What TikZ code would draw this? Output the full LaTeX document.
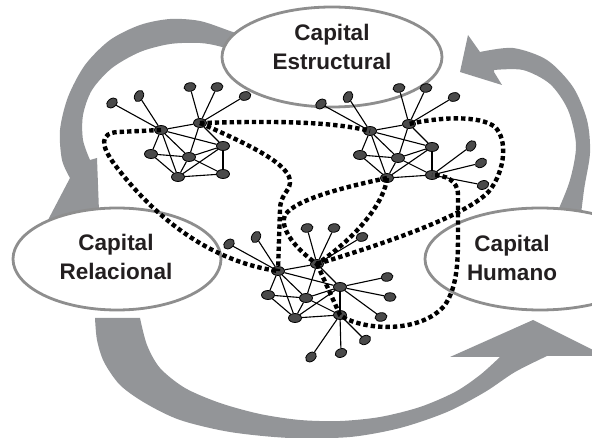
\documentclass[tikz,border=0pt]{standalone}
\usepackage{fontspec}
\setmainfont{Liberation Sans}
\usetikzlibrary{shapes.geometric}

\definecolor{arrowgray}{HTML}{939598}
\definecolor{ringgray}{HTML}{8E8E8E}
\definecolor{nodegray}{HTML}{4A4A4A}
\definecolor{textdark}{HTML}{231F20}

\begin{document}
\begin{tikzpicture}[%
        x = 1pt, y = -1pt,
        capital/.style = {ellipse, draw = ringgray, line width = 2.8pt, fill = white, inner sep = 0pt},
        captext/.style = {align = center, text = textdark, font = \fontsize{22.5}{29}\selectfont\bfseries},
        nd/.style = {ellipse, draw = black, line width = 0.8pt, fill = nodegray, minimum width = 13pt, minimum height = 9pt, inner sep = 0pt},
        leaf/.style = {nd, minimum width = 12pt, minimum height = 8.5pt},
        wire/.style = {line width = 1.1pt},
        dotlink/.style = {line width = 4.4pt, dash pattern = on 4.4pt off 3pt}
    ]

        \clip (0,0) rectangle (592,438);

        % Big grey arrows running round the three capitals.
        \fill[arrowgray] plot[smooth] coordinates {(255,40) (230,31) (200,21) (170,19) (140,25) (110,40) (85,65) (68,97) (60,130) (62,160) (70,178)}
            -- (48,220) -- (100,238) -- (97,158)
            -- plot[smooth] coordinates {(90,160) (83,140) (83,115) (92,90) (112,68) (140,52) (170,44) (200,43) (222,47) (255,58)} -- cycle;
        \fill[arrowgray] (468,35) -- (460,72) -- (502,85) -- (494,72)
            -- plot[smooth] coordinates {(494,70) (523,70) (550,84) (568,110) (576,145) (570,180) (557,213) (545,240)}
            -- plot[smooth] coordinates {(578,240) (584,190) (590,153) (587,120) (573,87) (547,60) (513,48) (480,52)} -- cycle;
        \fill[arrowgray] plot[smooth] coordinates {(95,318) (97,340) (104,362) (120,385) (145,403) (180,420) (230,432) (290,438) (350,437) (400,428) (447,412) (485,392) (515,372) (547,356)}
            -- (605,356) -- (533,320) -- (450,357) -- (500,357)
            -- plot[smooth] coordinates {(500,357) (480,375) (455,392) (420,407) (380,417) (340,421) (300,420) (260,414) (220,403) (185,388) (160,368) (147,345) (140,318)} -- cycle;

        % The three capitals.
        \node[capital, minimum width = 220pt, minimum height = 100pt] (est) at (332,57) {};
        \node[capital, minimum width = 208pt, minimum height = 102pt] (rel) at (117,259) {};
        \node[capital, minimum width = 230pt, minimum height = 102pt] (hum) at (540,259) {};
        \node[captext] (est text) at (332,47) {Capital\\Estructural};
        \node[captext] (rel text) at (116,257) {Capital\\Relacional};
        \node[captext] (hum text) at (512,258) {Capital\\Humano};

        % One small network, placed three times.
        \foreach \c/\dx/\dy in {1/0/0, 2/209/1, 3/117/141} {
            \begin{scope}[shift = {(\dx,\dy)}]
                \node[nd] (a\c) at (161,130) {};
                \node[nd] (b\c) at (200,123) {};
                \node[nd] (c\c) at (223,146) {};
                \node[nd] (d\c) at (151,154) {};
                \node[nd] (e\c) at (189,157) {};
                \node[nd] (f\c) at (178,177) {};
                \node[nd] (g\c) at (223,174) {};
                \foreach \u/\v in {a/b, a/c, a/d, a/e, a/f, b/c, b/e, c/e, c/f, c/g, d/e, d/f, e/f, e/g, f/g}
                    \draw[wire] (\u\c) -- (\v\c);
                % loose ends
                \foreach \h/\lx/\ly/\r [count=\i] in {a/112/103/40, a/139/96/60, b/190/87/10, b/217/87/8, b/245/96/15} {
                    \node[leaf, rotate = \r] (l\c\i) at (\lx,\ly) {};
                    \draw[wire] (\h\c) -- (l\c\i);
                }
            \end{scope}
        }

        % Extra loose ends on the second and third networks.
        \foreach \lx/\ly/\r [count=\i] in {471/146/50, 481/163/30, 483/185/20} {
            \node[leaf, rotate = \r] (m\i) at (\lx,\ly) {};
            \draw[wire] (g2) -- (m\i);
        }
        \foreach \lx/\ly/\r [count=\i] in {387/277/10, 390/297/0, 381/317/10} {
            \node[leaf, rotate = \r] (n\i) at (\lx,\ly) {};
            \draw[wire] (c3) -- (n\i);
        }
        \foreach \lx/\ly/\r [count=\i] in {365/340/30, 341/353/20, 311/357/40} {
            \node[leaf, rotate = \r] (p\i) at (\lx,\ly) {};
            \draw[wire] (g3) -- (p\i);
        }

        % Dotted ties between the networks.
        \draw[dotlink] (a1.center) -- (118,132) .. controls (100,133) and (100,145) .. (115,165) .. controls (145,205) and (200,260) .. (a3.center);
        \draw[dotlink] (b1.center) .. controls (270,121) and (330,121) .. (a2.center);
        \draw[dotlink] (b1.center) .. controls (250,145) and (292,165) .. (290,183) .. controls (289,192) and (280,195) .. (280,210) -- (a3.center);
        \draw[dotlink] (f2.center) .. controls (340,188) and (295,200) .. (285,215) .. controls (280,225) and (290,245) .. (b3.center);
        \draw[dotlink] (f2.center) .. controls (385,200) and (360,235) .. (b3.center);
        \draw[dotlink] (b3.center) -- (g3.center) .. controls (360,330) and (420,335) .. (445,305) .. controls (458,285) and (458,260) .. (458,230) -- (458,195) .. controls (458,180) and (445,175) .. (g2.center);
        \draw[dotlink] (b3.center) .. controls (380,245) and (470,215) .. (490,190) .. controls (505,170) and (508,140) .. (495,127) .. controls (480,115) and (440,117) .. (b2.center);
    \end{tikzpicture}
\end{document}
